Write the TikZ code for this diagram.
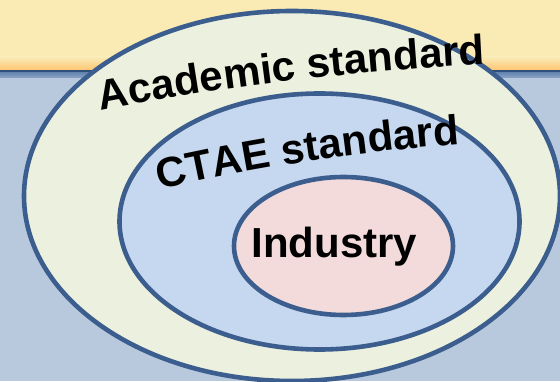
\documentclass[tikz,border=0pt]{standalone}
\usepackage{fontspec}
\setmainfont{Liberation Sans}
\usetikzlibrary{decorations.text}
\definecolor{bgblue}{HTML}{B9C9DD}
\definecolor{topyellow}{HTML}{FAEBB5}
\definecolor{toporange}{HTML}{FDC673}
\definecolor{darkline}{HTML}{2E4E7B}
\definecolor{bandtop}{HTML}{6686B1}
\definecolor{bandbot}{HTML}{8CA6C7}
\definecolor{ringblue}{HTML}{3B5E8E}
\definecolor{outerfill}{HTML}{ECF0DE}
\definecolor{midfill}{HTML}{C5D8EF}
\definecolor{innerfill}{HTML}{F2DBDA}
\newcommand\lblfont{\fontsize{42}{50}\selectfont\bfseries}
\tikzset{
  ring/.style={draw=ringblue, line width=4.6pt},
  curvedlabel/.style={decorate, decoration={text along path, text align=center, text={#1}}}
}
\begin{document}
\begin{tikzpicture}[x=1pt,y=1pt]
\useasboundingbox (0,0) rectangle (560,381);
% background
\fill[bgblue] (0,0) rectangle (560,381);
\fill[topyellow] (0,311) rectangle (560,381);
\shade[top color=topyellow, bottom color=toporange] (0,311) rectangle (560,324);
\fill[darkline] (0,308.5) rectangle (560,311);
\shade[top color=bandtop, bottom color=bandbot] (0,303) rectangle (560,308.5);
% rings
\draw[ring, fill=outerfill] (292,185) ellipse [x radius=268, y radius=185];
\draw[ring, fill=midfill] (319.5,159.5) ellipse [x radius=200, y radius=128];
\draw[ring, fill=innerfill] (343.5,135) ellipse [x radius=109.5, y radius=69];
% labels
\path[curvedlabel={|\lblfont|Academic standard}]
  ([shift={(101.56:2774)}]621,-2454) arc[start angle=101.56, end angle=92.06, radius=2774];
\path[curvedlabel={|\lblfont|CTAE standard}]
  ([shift={(104.6:2000)}]608,-1757.6) arc[start angle=104.6, end angle=92.6, radius=2000];
\node[anchor=base, inner sep=0pt, font=\lblfont] (industry) at (334.5,124) {Industry};
\end{tikzpicture}
\end{document}
